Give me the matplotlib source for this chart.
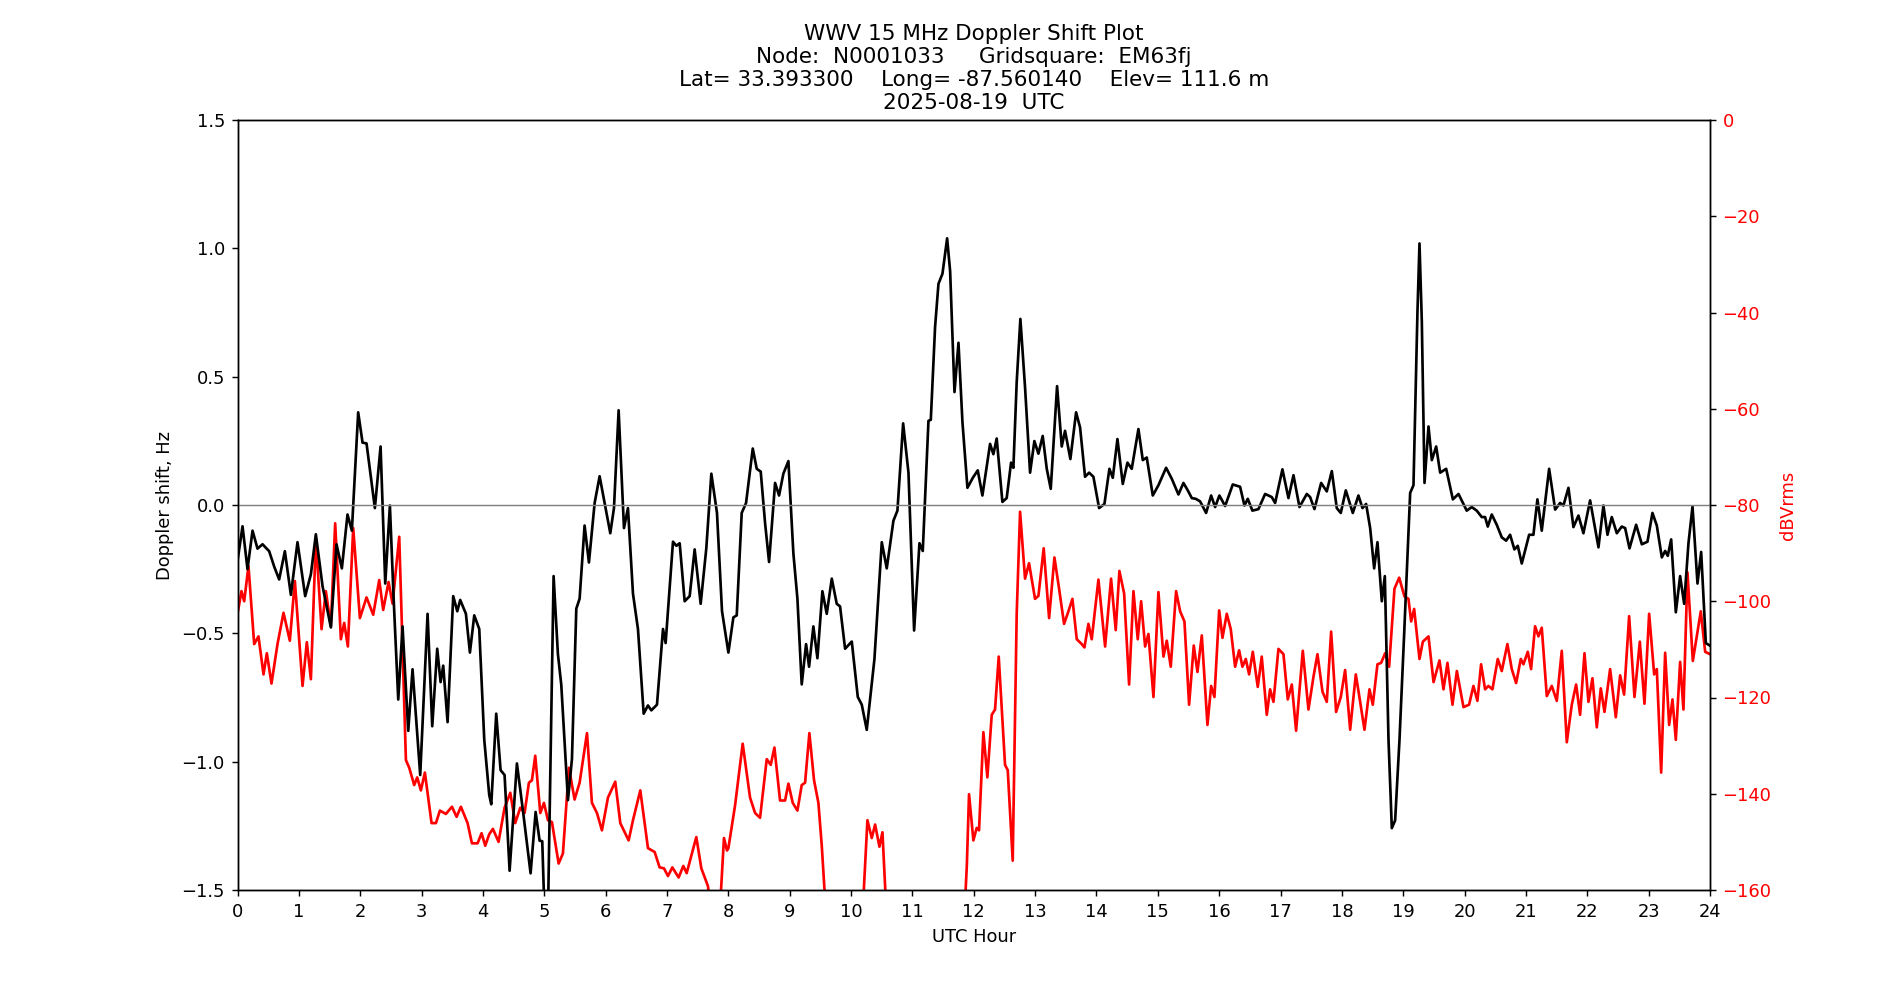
import matplotlib
matplotlib.use("Agg")
import matplotlib.pyplot as plt

# Doppler shift (black), hours / Hz
dop_hr = [0.000, 0.082, 0.163, 0.245, 0.326, 0.408, 0.516, 0.598, 0.679, 0.772, 0.870, 0.978,
          1.103, 1.196, 1.277, 1.386, 1.522, 1.614, 1.701, 1.793, 1.864, 1.967, 2.038, 2.103,
          2.239, 2.332, 2.408, 2.484, 2.543, 2.620, 2.690, 2.783, 2.853, 2.978, 3.098, 3.174,
          3.255, 3.310, 3.353, 3.424, 3.516, 3.582, 3.630, 3.723, 3.788, 3.859, 3.940, 4.022,
          4.103, 4.136, 4.217, 4.288, 4.353, 4.435, 4.554, 4.652, 4.777, 4.859, 4.924, 4.967,
          5.005, 5.060, 5.152, 5.222, 5.277, 5.386, 5.451, 5.522, 5.576, 5.657, 5.728, 5.821,
          5.902, 5.984, 6.076, 6.136, 6.212, 6.299, 6.364, 6.446, 6.527, 6.620, 6.690, 6.745,
          6.837, 6.935, 6.978, 7.098, 7.152, 7.207, 7.288, 7.370, 7.451, 7.549, 7.641, 7.723,
          7.815, 7.897, 8.001, 8.082, 8.137, 8.218, 8.289, 8.398, 8.463, 8.528, 8.599, 8.664,
          8.762, 8.827, 8.897, 8.979, 9.060, 9.126, 9.196, 9.267, 9.316, 9.386, 9.452, 9.533,
          9.604, 9.686, 9.767, 9.821, 9.903, 10.012, 10.110, 10.175, 10.256, 10.381, 10.501, 10.582,
          10.691, 10.756, 10.849, 10.936, 11.028, 11.115, 11.169, 11.262, 11.300, 11.370, 11.425, 11.490,
          11.566, 11.615, 11.686, 11.751, 11.816, 11.897, 11.985, 12.065, 12.141, 12.266, 12.320, 12.374,
          12.467, 12.537, 12.608, 12.646, 12.700, 12.760, 12.836, 12.918, 12.988, 13.054, 13.124, 13.190,
          13.255, 13.358, 13.434, 13.488, 13.575, 13.668, 13.733, 13.814, 13.880, 13.950, 14.043, 14.130,
          14.211, 14.266, 14.342, 14.429, 14.505, 14.575, 14.684, 14.755, 14.820, 14.918, 15.010, 15.135,
          15.228, 15.336, 15.418, 15.488, 15.554, 15.619, 15.690, 15.787, 15.869, 15.934, 16.004, 16.097,
          16.222, 16.341, 16.412, 16.466, 16.542, 16.640, 16.749, 16.857, 16.912, 17.031, 17.129, 17.211,
          17.309, 17.428, 17.482, 17.553, 17.662, 17.754, 17.836, 17.917, 17.982, 18.064, 18.178, 18.270,
          18.336, 18.395, 18.461, 18.526, 18.580, 18.651, 18.700, 18.760, 18.814, 18.868, 18.939, 19.015,
          19.113, 19.167, 19.232, 19.265, 19.303, 19.347, 19.412, 19.466, 19.537, 19.602, 19.700, 19.809,
          19.901, 20.035, 20.117, 20.198, 20.280, 20.334, 20.378, 20.443, 20.524, 20.606, 20.677, 20.742,
          20.812, 20.867, 20.932, 21.052, 21.122, 21.187, 21.258, 21.378, 21.476, 21.557, 21.611, 21.693,
          21.774, 21.856, 21.937, 22.046, 22.182, 22.263, 22.329, 22.399, 22.481, 22.562, 22.617, 22.688,
          22.796, 22.889, 22.981, 23.062, 23.133, 23.215, 23.269, 23.312, 23.367, 23.443, 23.513, 23.579,
          23.649, 23.715, 23.796, 23.856, 23.932, 24.000]
dop_hz = [-0.218, -0.083, -0.250, -0.100, -0.170, -0.153, -0.180, -0.240, -0.290, -0.180, -0.350, -0.145,
          -0.355, -0.270, -0.114, -0.316, -0.477, -0.153, -0.247, -0.037, -0.100, 0.361, 0.243, 0.240,
          -0.012, 0.228, -0.306, -0.002, -0.355, -0.758, -0.473, -0.880, -0.640, -1.052, -0.424, -0.862,
          -0.560, -0.690, -0.626, -0.846, -0.355, -0.414, -0.370, -0.424, -0.575, -0.430, -0.483, -0.915,
          -1.130, -1.166, -0.813, -1.033, -1.052, -1.425, -1.007, -1.190, -1.435, -1.196, -1.308, -1.310,
          -1.600, -1.600, -0.277, -0.580, -0.700, -1.150, -0.990, -0.404, -0.365, -0.080, -0.224, 0.008,
          0.112, 0.008, -0.110, -0.012, 0.369, -0.090, -0.012, -0.346, -0.483, -0.813, -0.781, -0.800,
          -0.778, -0.483, -0.538, -0.143, -0.159, -0.149, -0.375, -0.355, -0.173, -0.385, -0.169, 0.122,
          -0.031, -0.414, -0.575, -0.438, -0.430, -0.031, 0.008, 0.220, 0.141, 0.130, -0.071, -0.222,
          0.086, 0.037, 0.122, 0.171, -0.188, -0.365, -0.699, -0.542, -0.630, -0.473, -0.597, -0.336,
          -0.424, -0.287, -0.385, -0.395, -0.560, -0.532, -0.748, -0.778, -0.876, -0.601, -0.145, -0.247,
          -0.061, -0.022, 0.318, 0.126, -0.489, -0.149, -0.179, 0.328, 0.332, 0.695, 0.862, 0.901,
          1.039, 0.911, 0.440, 0.632, 0.322, 0.067, 0.106, 0.135, 0.037, 0.238, 0.198, 0.259,
          0.012, 0.027, 0.165, 0.145, 0.479, 0.725, 0.459, 0.126, 0.249, 0.200, 0.269, 0.141,
          0.063, 0.463, 0.228, 0.289, 0.179, 0.361, 0.302, 0.110, 0.126, 0.110, -0.012, 0.004,
          0.141, 0.106, 0.257, 0.082, 0.165, 0.141, 0.296, 0.175, 0.185, 0.037, 0.077, 0.145,
          0.102, 0.041, 0.086, 0.057, 0.027, 0.024, 0.014, -0.031, 0.037, -0.008, 0.037, -0.004,
          0.080, 0.071, -0.002, 0.024, -0.022, -0.016, 0.043, 0.031, 0.008, 0.139, 0.027, 0.116,
          -0.008, 0.043, 0.031, -0.016, 0.086, 0.053, 0.132, -0.012, -0.031, 0.057, -0.031, 0.037,
          -0.012, 0.004, -0.090, -0.247, -0.145, -0.375, -0.277, -0.915, -1.259, -1.229, -0.915, -0.503,
          0.047, 0.077, 0.754, 1.019, 0.715, 0.086, 0.306, 0.175, 0.228, 0.126, 0.141, 0.022,
          0.043, -0.022, -0.008, -0.022, -0.047, -0.047, -0.084, -0.037, -0.077, -0.126, -0.139, -0.116,
          -0.173, -0.159, -0.228, -0.116, -0.116, 0.022, -0.100, 0.141, -0.018, 0.008, -0.002, 0.067,
          -0.086, -0.041, -0.110, 0.018, -0.165, -0.002, -0.116, -0.047, -0.110, -0.084, -0.090, -0.169,
          -0.077, -0.153, -0.143, -0.031, -0.080, -0.204, -0.179, -0.198, -0.134, -0.418, -0.277, -0.385,
          -0.149, -0.006, -0.306, -0.183, -0.538, -0.548]

# signal level (red), hours / dBVrms
pwr_hr = [0.000, 0.065, 0.109, 0.179, 0.272, 0.342, 0.424, 0.478, 0.554, 0.652, 0.750, 0.853,
          0.935, 1.060, 1.130, 1.196, 1.277, 1.370, 1.440, 1.522, 1.592, 1.685, 1.739, 1.799,
          1.886, 1.995, 2.103, 2.212, 2.310, 2.375, 2.462, 2.527, 2.636, 2.745, 2.799, 2.880,
          2.929, 2.989, 3.054, 3.163, 3.234, 3.299, 3.397, 3.495, 3.571, 3.641, 3.750, 3.821,
          3.913, 3.978, 4.038, 4.103, 4.163, 4.255, 4.353, 4.446, 4.527, 4.609, 4.679, 4.750,
          4.799, 4.853, 4.935, 4.995, 5.060, 5.125, 5.234, 5.304, 5.402, 5.494, 5.576, 5.696,
          5.777, 5.859, 5.940, 6.038, 6.157, 6.239, 6.375, 6.446, 6.565, 6.690, 6.799, 6.880,
          6.951, 7.016, 7.087, 7.190, 7.266, 7.321, 7.397, 7.478, 7.560, 7.668, 7.723, 7.800,
          7.859, 7.929, 7.978, 8.001, 8.110, 8.234, 8.354, 8.436, 8.517, 8.626, 8.691, 8.751,
          8.843, 8.925, 8.979, 9.050, 9.126, 9.196, 9.251, 9.321, 9.397, 9.468, 9.523, 9.577,
          9.700, 10.100, 10.200, 10.267, 10.338, 10.392, 10.463, 10.512, 10.566, 10.700, 11.750, 11.860,
          11.887, 11.923, 11.994, 12.048, 12.086, 12.157, 12.222, 12.293, 12.347, 12.407, 12.467, 12.510,
          12.554, 12.635, 12.700, 12.755, 12.836, 12.901, 12.999, 13.054, 13.140, 13.228, 13.315, 13.391,
          13.472, 13.543, 13.608, 13.679, 13.760, 13.804, 13.869, 13.923, 14.032, 14.141, 14.238, 14.314,
          14.374, 14.451, 14.532, 14.603, 14.673, 14.728, 14.793, 14.847, 14.929, 15.010, 15.092, 15.146,
          15.211, 15.298, 15.364, 15.434, 15.510, 15.586, 15.646, 15.717, 15.809, 15.869, 15.923, 16.000,
          16.054, 16.124, 16.189, 16.260, 16.325, 16.379, 16.434, 16.488, 16.548, 16.629, 16.694, 16.776,
          16.830, 16.885, 16.966, 17.048, 17.118, 17.184, 17.254, 17.363, 17.455, 17.537, 17.602, 17.684,
          17.754, 17.825, 17.906, 17.982, 18.053, 18.135, 18.227, 18.298, 18.368, 18.450, 18.504, 18.580,
          18.640, 18.705, 18.770, 18.857, 18.934, 19.020, 19.085, 19.129, 19.178, 19.265, 19.320, 19.412,
          19.494, 19.591, 19.656, 19.721, 19.803, 19.874, 19.982, 20.073, 20.144, 20.209, 20.269, 20.334,
          20.388, 20.454, 20.541, 20.606, 20.698, 20.769, 20.840, 20.916, 20.959, 21.030, 21.084, 21.149,
          21.204, 21.258, 21.340, 21.421, 21.503, 21.584, 21.666, 21.747, 21.818, 21.883, 21.954, 22.019,
          22.084, 22.155, 22.220, 22.280, 22.372, 22.465, 22.535, 22.600, 22.682, 22.769, 22.856, 22.932,
          23.008, 23.090, 23.133, 23.204, 23.269, 23.334, 23.388, 23.443, 23.513, 23.567, 23.633, 23.720,
          23.850, 23.921, 24.000]
pwr_db = [-102.6, -97.9, -100.0, -92.7, -108.9, -107.3, -115.2, -110.8, -117.1, -108.9, -102.4, -108.2,
          -95.8, -117.6, -108.5, -116.2, -87.1, -105.8, -97.9, -105.2, -83.8, -107.9, -104.5, -109.4,
          -84.8, -103.5, -99.2, -102.8, -95.6, -101.8, -96.0, -100.5, -86.6, -133.0, -134.6, -138.2,
          -136.6, -139.3, -135.6, -146.1, -146.1, -143.5, -144.2, -142.7, -144.8, -142.7, -146.1, -150.3,
          -150.3, -148.2, -150.8, -148.4, -147.3, -150.0, -142.9, -139.8, -146.1, -142.9, -144.0, -137.7,
          -137.2, -132.1, -144.0, -141.9, -145.5, -145.9, -154.5, -152.4, -134.6, -141.2, -137.7, -127.4,
          -141.9, -144.0, -147.6, -140.8, -137.5, -146.1, -149.7, -145.5, -139.3, -151.3, -152.1, -155.3,
          -155.5, -157.1, -155.3, -157.4, -155.0, -156.5, -152.9, -149.0, -155.5, -159.2, -165.0, -170.0,
          -165.0, -149.2, -151.8, -151.3, -142.4, -129.6, -140.8, -144.0, -145.0, -132.8, -134.0, -130.4,
          -141.4, -141.4, -137.9, -141.9, -143.5, -138.2, -137.7, -127.4, -137.2, -141.9, -150.8, -162.0,
          -175.0, -175.0, -162.0, -145.5, -149.2, -146.4, -151.0, -148.0, -162.0, -175.0, -175.0, -162.0,
          -155.0, -140.1, -149.7, -147.1, -147.6, -127.2, -136.6, -123.6, -122.5, -111.5, -124.6, -134.0,
          -135.1, -153.9, -102.6, -81.4, -95.3, -92.1, -99.5, -98.9, -89.0, -103.5, -90.9, -97.4,
          -104.7, -102.1, -99.5, -107.9, -108.9, -109.6, -104.7, -107.9, -95.5, -109.4, -95.3, -106.0,
          -93.7, -98.4, -117.3, -97.9, -107.9, -100.0, -109.4, -106.8, -119.9, -98.1, -111.5, -108.2,
          -113.6, -97.9, -102.1, -104.2, -121.5, -109.2, -114.7, -107.1, -125.7, -117.6, -119.9, -101.9,
          -107.6, -102.6, -105.8, -113.6, -110.2, -113.6, -112.0, -115.2, -110.5, -117.8, -111.5, -123.6,
          -118.3, -120.9, -109.9, -111.0, -120.4, -117.3, -126.9, -110.3, -122.5, -115.7, -111.0, -118.8,
          -120.9, -106.3, -123.0, -119.9, -114.3, -126.7, -115.2, -120.9, -126.7, -118.3, -121.5, -113.1,
          -112.8, -110.8, -113.6, -97.4, -95.1, -99.0, -99.5, -104.2, -101.6, -112.0, -108.4, -107.3,
          -116.8, -112.3, -118.3, -112.8, -121.5, -114.5, -122.0, -121.5, -117.6, -120.7, -113.1, -118.3,
          -117.6, -118.3, -112.0, -114.5, -108.9, -114.1, -117.0, -112.0, -113.1, -110.5, -114.1, -105.2,
          -107.3, -105.5, -119.7, -117.6, -120.7, -110.3, -129.3, -121.5, -117.3, -123.6, -110.8, -120.9,
          -116.0, -126.2, -118.1, -123.0, -114.1, -124.1, -115.4, -119.4, -103.1, -119.9, -108.4, -121.3,
          -102.6, -115.2, -114.1, -135.6, -110.7, -125.7, -120.4, -128.8, -112.6, -122.5, -94.0, -112.4,
          -102.1, -110.5, -111.0]

title = ("WWV 15 MHz Doppler Shift Plot\n"
         "Node:  N0001033     Gridsquare:  EM63fj\n"
         "Lat= 33.393300    Long= -87.560140    Elev= 111.6 m\n"
         "2025-08-19  UTC")

dpi = 129
fig, ax = plt.subplots(figsize=(1900 / dpi, 1000 / dpi), dpi=dpi)
ax2 = ax.twinx()

ax.plot(dop_hr, dop_hz, color='black', linewidth=1.5)
ax.axhline(0, color='grey', linewidth=0.8)
ax.set_xlim(0, 24)
ax.set_ylim(-1.5, 1.5)
ax.set_xticks(range(0, 25))
ax.set_xlabel("UTC Hour")
ax.set_ylabel("Doppler shift, Hz")
ax.set_title(title)

ax2.plot(pwr_hr, pwr_db, color='red', linewidth=1.5)
ax2.set_ylim(-160, 0)
ax2.set_ylabel("dBVrms", color='red')
ax2.tick_params(axis='y', labelcolor='red')

# doppler trace on top of the power trace
ax.set_zorder(ax2.get_zorder() + 1)
ax.patch.set_visible(False)

fig.savefig("out.png", dpi=dpi)
